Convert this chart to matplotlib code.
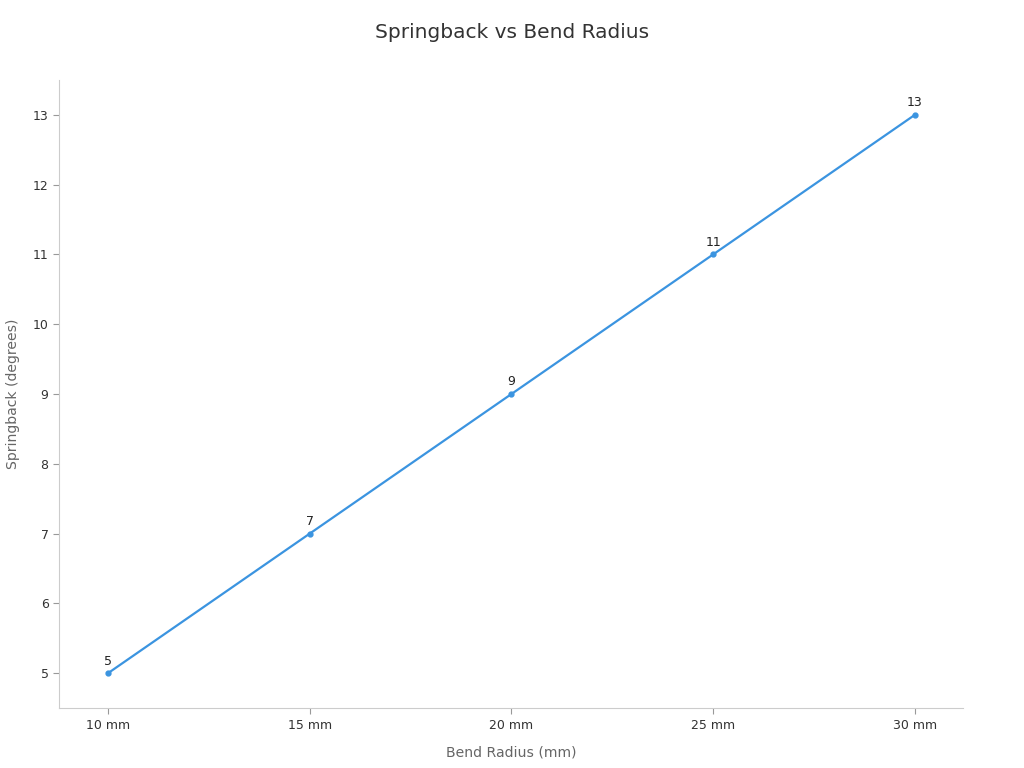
import matplotlib.pyplot as plt

radius_labels = ["10 mm", "15 mm", "20 mm", "25 mm", "30 mm"]
springback = [5, 7, 9, 11, 13]

fig = plt.figure(figsize=(10.24, 7.68), dpi=100)
ax = fig.add_axes([0.0576, 0.078, 0.8828, 0.818])

x = list(range(len(radius_labels)))
line_color = "#3b94e0"
ax.plot(x, springback, color=line_color, linewidth=1.6,
        marker="o", markersize=3.5)

for xi, yi in zip(x, springback):
    ax.annotate(str(yi), (xi, yi), xytext=(0, 4), textcoords="offset points",
                ha="center", va="bottom", fontsize=9, color="#222222")

ax.set_xticks(x)
ax.set_xticklabels(radius_labels)
ax.set_xlim(-0.243, 4.238)
ax.set_ylim(4.5, 13.5)
ax.set_yticks(range(5, 14))

for side in ["top", "right"]:
    ax.spines[side].set_visible(False)
for side in ["left", "bottom"]:
    ax.spines[side].set_color("#cccccc")
ax.tick_params(axis="both", colors="#999999", labelcolor="#333333",
               labelsize=9, length=4)

ax.set_xlabel("Bend Radius (mm)", fontsize=10.1, color="#666666", labelpad=10)
ax.set_ylabel("Springback (degrees)", fontsize=10.1, color="#666666", labelpad=9)
fig.suptitle("Springback vs Bend Radius", fontsize=14.5, color="#333333", y=0.97)

fig.savefig("out.png", dpi=100)
